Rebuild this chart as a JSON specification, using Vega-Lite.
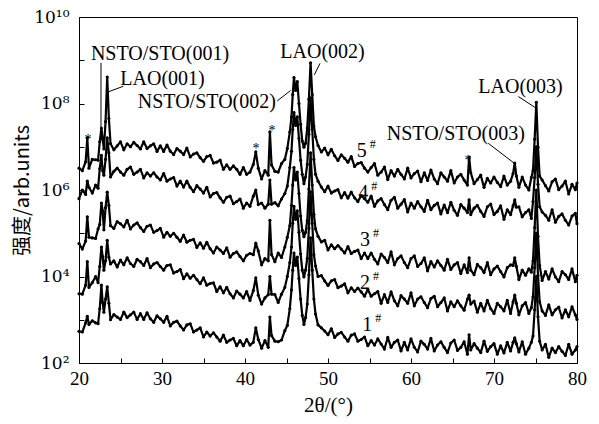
{
  "$schema": "https://vega.github.io/schema/vega-lite/v6.json",
  "width": 498,
  "height": 346,
  "autosize": {"type": "none"},
  "padding": {"left": 79, "top": 17, "right": 24, "bottom": 61},
  "background": "white",
  "config": {
    "view": {"stroke": "black", "strokeWidth": 1},
    "font": "Liberation Serif",
    "axis": {"grid": false, "domainColor": "black", "tickColor": "black", "labelColor": "black", "titleColor": "black", "labelFont": "Liberation Serif", "labelFontSize": 19, "titleFontWeight": "normal", "tickSize": -5, "labelFlush": false},
    "axisX": {"titleFontSize": 21, "titleFont": "Liberation Serif", "titleFontWeight": "normal"},
    "axisY": {"titleFontSize": 20, "titleFont": "Noto Sans CJK SC", "titleFontWeight": "normal"}
  },
  "datasets": {
    "xrd": [
      {"x":20.0,"s1":5.4e2,"s2":4.0e3,"s3":5.8e4,"s4":6.3e5,"s5":3.2e6},
      {"x":20.4,"s1":5.2e2,"s2":3.9e3,"s3":4.3e4,"s4":1.0e6,"s5":2.8e6},
      {"x":20.8,"s1":8.5e2,"s2":6.3e3,"s3":6.6e4,"s4":7.9e5,"s5":4.5e6},
      {"x":21.0,"s1":1.2e3,"s2":2.2e4,"s3":2.4e5,"s4":1.6e6,"s5":1.6e7},
      {"x":21.2,"s1":7.8e2,"s2":5.6e3,"s3":8.1e4,"s4":1.15e6,"s5":3.2e6},
      {"x":21.6,"s1":9.5e2,"s2":7.2e3,"s3":7.8e4,"s4":8.5e5,"s5":5.1e6},
      {"x":22.0,"s1":8.5e2,"s2":1.0e4,"s3":7.6e4,"s4":1.3e6,"s5":5.0e6},
      {"x":22.3,"s1":8.1e2,"s2":7.2e3,"s3":1.26e5,"s4":1.1e6,"s5":4.9e6},
      {"x":22.5,"s1":1.8e3,"s2":1.7e4,"s3":1.6e5,"s4":3.1e6,"s5":1.3e7},
      {"x":22.7,"s1":6.3e3,"s2":4.8e4,"s3":5.0e5,"s4":6.3e6,"s5":2.7e7},
      {"x":22.85,"s1":2.5e3,"s2":2.9e4,"s3":3.3e5,"s4":2.8e6,"s5":1.5e7},
      {"x":23.0,"s1":1.5e3,"s2":1.4e4,"s3":1.2e5,"s4":2.2e6,"s5":8.9e6},
      {"x":23.2,"s1":3.0e3,"s2":2.3e4,"s3":3.9e5,"s4":5.1e6,"s5":3.8e7},
      {"x":23.4,"s1":5.8e3,"s2":6.9e4,"s3":8.9e5,"s4":1.6e7,"s5":4.1e8},
      {"x":23.6,"s1":2.4e3,"s2":2.8e4,"s3":4.4e5,"s4":7.2e6,"s5":4.5e7},
      {"x":23.8,"s1":1.0e3,"s2":1.95e4,"s3":1.5e5,"s4":2.0e6,"s5":1.17e7},
      {"x":24.2,"s1":1.32e3,"s2":2.3e4,"s3":1.29e5,"s4":2.7e6,"s5":8.5e6},
      {"x":24.6,"s1":1.15e3,"s2":1.66e4,"s3":1.86e5,"s4":3.2e6,"s5":1.05e7},
      {"x":25.0,"s1":1.02e3,"s2":2.4e4,"s3":1.66e5,"s4":2.6e6,"s5":1.3e7},
      {"x":25.4,"s1":1.5e3,"s2":1.86e4,"s3":1.4e5,"s4":2.2e6,"s5":8.5e6},
      {"x":25.8,"s1":1.12e3,"s2":2.7e4,"s3":2.0e5,"s4":3.0e6,"s5":1.17e7},
      {"x":26.2,"s1":1.3e3,"s2":2.0e4,"s3":1.26e5,"s4":3.4e6,"s5":1.0e7},
      {"x":26.6,"s1":1.5e3,"s2":1.7e4,"s3":1.55e5,"s4":2.3e6,"s5":1.26e7},
      {"x":27.0,"s1":1.02e3,"s2":2.5e4,"s3":1.74e5,"s4":2.6e6,"s5":1.07e7},
      {"x":27.4,"s1":1.38e3,"s2":2.2e4,"s3":1.35e5,"s4":3.0e6,"s5":8.9e6},
      {"x":27.8,"s1":1.02e3,"s2":1.8e4,"s3":1.1e5,"s4":1.9e6,"s5":1.3e7},
      {"x":28.2,"s1":1.45e3,"s2":2.6e4,"s3":1.45e5,"s4":2.5e6,"s5":9.1e6},
      {"x":28.6,"s1":1.05e3,"s2":1.6e4,"s3":1.55e5,"s4":2.1e6,"s5":1.05e7},
      {"x":29.0,"s1":8.7e2,"s2":1.95e4,"s3":1.05e5,"s4":2.5e6,"s5":1.17e7},
      {"x":29.4,"s1":1.23e3,"s2":2.1e4,"s3":1.15e5,"s4":2.0e6,"s5":7.8e6},
      {"x":29.8,"s1":1.05e3,"s2":1.7e4,"s3":1.3e5,"s4":1.7e6,"s5":1.05e7},
      {"x":30.2,"s1":8.7e2,"s2":1.4e4,"s3":8.1e4,"s4":2.4e6,"s5":7.8e6},
      {"x":30.6,"s1":1.2e3,"s2":1.8e4,"s3":1.05e5,"s4":1.6e6,"s5":1.1e7},
      {"x":31.0,"s1":7.2e2,"s2":1.86e4,"s3":8.5e4,"s4":1.8e6,"s5":7.9e6},
      {"x":31.4,"s1":8.7e2,"s2":1.2e4,"s3":1.0e5,"s4":1.95e6,"s5":6.6e6},
      {"x":31.8,"s1":9.3e2,"s2":1.3e4,"s3":8.1e4,"s4":1.23e6,"s5":9.1e6},
      {"x":32.2,"s1":7.2e2,"s2":1.45e4,"s3":6.5e4,"s4":1.6e6,"s5":7.9e6},
      {"x":32.6,"s1":5.8e2,"s2":8.9e3,"s3":9.1e4,"s4":1.17e6,"s5":6.6e6},
      {"x":33.0,"s1":7.6e2,"s2":1.15e4,"s3":6.2e4,"s4":1.6e6,"s5":9.3e6},
      {"x":33.4,"s1":8.1e2,"s2":9.1e3,"s3":6.9e4,"s4":1.15e6,"s5":5.8e6},
      {"x":33.8,"s1":5.2e2,"s2":1.07e4,"s3":7.2e4,"s4":9.1e5,"s5":6.8e6},
      {"x":34.2,"s1":5.8e2,"s2":8.5e3,"s3":4.7e4,"s4":1.26e6,"s5":7.2e6},
      {"x":34.6,"s1":6.5e2,"s2":6.8e3,"s3":6.0e4,"s4":1.05e6,"s5":5.6e6},
      {"x":35.0,"s1":4.0e2,"s2":9.3e3,"s3":4.5e4,"s4":8.5e5,"s5":4.6e6},
      {"x":35.4,"s1":5.2e2,"s2":6.3e3,"s3":6.2e4,"s4":1.15e6,"s5":5.9e6},
      {"x":35.8,"s1":4.2e2,"s2":6.9e3,"s3":4.4e4,"s4":6.9e5,"s5":6.3e6},
      {"x":36.2,"s1":5.0e2,"s2":7.1e3,"s3":3.5e4,"s4":8.3e5,"s5":4.2e6},
      {"x":36.6,"s1":4.0e2,"s2":4.5e3,"s3":4.8e4,"s4":8.7e5,"s5":4.4e6},
      {"x":37.0,"s1":3.2e2,"s2":5.8e3,"s3":4.1e4,"s4":6.6e5,"s5":4.9e6},
      {"x":37.4,"s1":4.4e2,"s2":4.2e3,"s3":3.4e4,"s4":5.2e5,"s5":3.0e6},
      {"x":37.8,"s1":3.0e2,"s2":5.6e3,"s3":4.6e4,"s4":6.8e5,"s5":3.8e6},
      {"x":38.2,"s1":3.4e2,"s2":4.0e3,"s3":2.8e4,"s4":7.2e5,"s5":3.0e6},
      {"x":38.6,"s1":3.7e2,"s2":3.2e3,"s3":3.4e4,"s4":4.8e5,"s5":3.6e6},
      {"x":39.0,"s1":2.5e2,"s2":4.6e3,"s3":3.7e4,"s4":5.4e5,"s5":3.0e6},
      {"x":39.4,"s1":3.3e2,"s2":3.9e3,"s3":2.9e4,"s4":6.2e5,"s5":2.3e6},
      {"x":39.8,"s1":2.5e2,"s2":3.2e3,"s3":2.3e4,"s4":3.8e5,"s5":3.3e6},
      {"x":40.2,"s1":3.5e2,"s2":4.5e3,"s3":3.1e4,"s4":5.0e5,"s5":2.3e6},
      {"x":40.6,"s1":2.6e2,"s2":2.8e3,"s3":3.4e4,"s4":4.2e5,"s5":2.6e6},
      {"x":41.0,"s1":3.0e2,"s2":4.7e3,"s3":3.2e4,"s4":7.2e5,"s5":3.9e6},
      {"x":41.3,"s1":6.5e2,"s2":9.3e3,"s3":5.9e4,"s4":1.0e6,"s5":7.6e6},
      {"x":41.6,"s1":3.5e2,"s2":3.7e3,"s3":3.9e4,"s4":4.6e5,"s5":3.2e6},
      {"x":42.0,"s1":2.2e2,"s2":2.3e3,"s3":1.86e4,"s4":5.0e5,"s5":1.8e6},
      {"x":42.4,"s1":3.3e2,"s2":3.2e3,"s3":2.6e4,"s4":3.8e5,"s5":2.8e6},
      {"x":42.8,"s1":2.3e2,"s2":3.8e3,"s3":2.3e4,"s4":4.7e5,"s5":2.2e6},
      {"x":43.0,"s1":1.15e3,"s2":1.0e4,"s3":2.0e5,"s4":1.7e6,"s5":2.2e7},
      {"x":43.2,"s1":4.3e2,"s2":3.9e3,"s3":3.2e4,"s4":4.7e5,"s5":3.8e6},
      {"x":43.6,"s1":3.2e2,"s2":3.8e3,"s3":2.2e4,"s4":5.1e5,"s5":2.7e6},
      {"x":44.0,"s1":3.1e2,"s2":2.5e3,"s3":3.5e4,"s4":4.3e5,"s5":2.6e6},
      {"x":44.4,"s1":3.4e2,"s2":3.9e3,"s3":2.75e4,"s4":6.2e5,"s5":4.1e6},
      {"x":44.8,"s1":5.6e2,"s2":5.6e3,"s3":4.8e4,"s4":8.3e5,"s5":5.1e6},
      {"x":45.1,"s1":7.4e2,"s2":1.0e4,"s3":8.1e4,"s4":1.23e6,"s5":9.1e6},
      {"x":45.4,"s1":1.8e3,"s2":2.1e4,"s3":1.5e5,"s4":3.3e6,"s5":2.2e7},
      {"x":45.6,"s1":4.9e3,"s2":4.8e4,"s3":4.4e5,"s4":7.9e6,"s5":4.9e7},
      {"x":45.75,"s1":1.4e4,"s2":1.7e5,"s3":1.3e6,"s4":2.5e7,"s5":1.6e8},
      {"x":45.9,"s1":3.5e4,"s2":4.2e5,"s3":3.3e6,"s4":6.2e7,"s5":4.0e8},
      {"x":46.1,"s1":1.8e4,"s2":2.1e5,"s3":1.7e6,"s4":3.1e7,"s5":2.0e8},
      {"x":46.3,"s1":2.8e4,"s2":3.3e5,"s3":2.6e6,"s4":4.9e7,"s5":3.2e8},
      {"x":46.5,"s1":8.9e3,"s2":1.05e5,"s3":8.3e5,"s4":1.55e7,"s5":1.0e8},
      {"x":46.7,"s1":3.0e3,"s2":3.3e4,"s3":2.5e5,"s4":4.9e6,"s5":3.3e7},
      {"x":46.9,"s1":1.26e3,"s2":1.4e4,"s3":1.17e5,"s4":2.3e6,"s5":1.35e7},
      {"x":47.1,"s1":7.8e2,"s2":9.8e3,"s3":8.3e4,"s4":1.4e6,"s5":9.8e6},
      {"x":47.3,"s1":1.12e3,"s2":1.4e4,"s3":1.05e5,"s4":2.0e6,"s5":1.2e7},
      {"x":47.5,"s1":2.3e3,"s2":2.6e4,"s3":1.95e5,"s4":3.9e6,"s5":2.7e7},
      {"x":47.7,"s1":1.1e4,"s2":1.3e5,"s3":1.05e6,"s4":1.95e7,"s5":1.26e8},
      {"x":47.9,"s1":7.8e4,"s2":9.1e5,"s3":7.2e6,"s4":1.35e8,"s5":8.7e8},
      {"x":48.1,"s1":1.4e4,"s2":1.7e5,"s3":1.3e6,"s4":2.5e7,"s5":1.6e8},
      {"x":48.3,"s1":3.0e3,"s2":3.2e4,"s3":2.75e5,"s4":5.1e6,"s5":3.0e7},
      {"x":48.5,"s1":1.35e3,"s2":1.74e4,"s3":1.26e5,"s4":2.3e6,"s5":1.7e7},
      {"x":48.8,"s1":7.6e2,"s2":1.0e4,"s3":8.5e4,"s4":1.6e6,"s5":1.07e7},
      {"x":49.2,"s1":6.5e2,"s2":1.05e4,"s3":6.3e4,"s4":1.17e6,"s5":7.6e6},
      {"x":49.6,"s1":5.5e2,"s2":7.9e3,"s3":6.9e4,"s4":9.1e5,"s5":9.3e6},
      {"x":50.0,"s1":4.5e2,"s2":6.2e3,"s3":4.1e4,"s4":1.23e6,"s5":6.5e6},
      {"x":50.4,"s1":6.2e2,"s2":7.9e3,"s3":5.4e4,"s4":8.5e5,"s5":8.7e6},
      {"x":50.8,"s1":3.9e2,"s2":8.5e3,"s3":4.4e4,"s4":9.5e5,"s5":6.2e6},
      {"x":51.2,"s1":4.7e2,"s2":5.5e3,"s3":5.2e4,"s4":1.02e6,"s5":4.8e6},
      {"x":51.6,"s1":5.1e2,"s2":6.0e3,"s3":4.3e4,"s4":6.6e5,"s5":6.5e6},
      {"x":52.0,"s1":4.0e2,"s2":6.8e3,"s3":3.5e4,"s4":8.7e5,"s5":5.4e6},
      {"x":52.4,"s1":3.2e2,"s2":4.2e3,"s3":4.9e4,"s4":6.5e5,"s5":4.4e6},
      {"x":52.8,"s1":4.4e2,"s2":5.5e3,"s3":3.4e4,"s4":8.9e5,"s5":5.9e6},
      {"x":53.2,"s1":4.7e2,"s2":4.5e3,"s3":3.8e4,"s4":6.6e5,"s5":3.5e6},
      {"x":53.6,"s1":3.2e2,"s2":5.4e3,"s3":4.1e4,"s4":5.4e5,"s5":4.1e6},
      {"x":54.0,"s1":3.5e2,"s2":4.4e3,"s3":2.6e4,"s4":7.4e5,"s5":4.3e6},
      {"x":54.4,"s1":4.0e2,"s2":3.5e3,"s3":3.5e4,"s4":6.3e5,"s5":3.2e6},
      {"x":54.8,"s1":2.5e2,"s2":5.0e3,"s3":2.6e4,"s4":5.2e5,"s5":2.6e6},
      {"x":55.2,"s1":3.3e2,"s2":3.5e3,"s3":3.5e4,"s4":7.2e5,"s5":3.3e6},
      {"x":55.6,"s1":2.6e2,"s2":4.0e3,"s3":2.5e4,"s4":4.2e5,"s5":4.1e6},
      {"x":56.0,"s1":3.6e2,"s2":4.5e3,"s3":1.95e4,"s4":5.6e5,"s5":2.2e6},
      {"x":56.4,"s1":2.75e2,"s2":2.4e3,"s3":3.3e4,"s4":6.3e5,"s5":2.6e6},
      {"x":56.8,"s1":2.1e2,"s2":3.8e3,"s3":2.75e4,"s4":4.6e5,"s5":3.4e6},
      {"x":57.2,"s1":3.9e2,"s2":2.5e3,"s3":2.1e4,"s4":3.5e5,"s5":1.74e6},
      {"x":57.6,"s1":2.3e2,"s2":4.4e3,"s3":3.7e4,"s4":5.8e5,"s5":2.8e6},
      {"x":58.0,"s1":3.0e2,"s2":2.75e3,"s3":1.86e4,"s4":6.8e5,"s5":2.1e6},
      {"x":58.4,"s1":3.4e2,"s2":2.1e3,"s3":2.6e4,"s4":3.8e5,"s5":3.0e6},
      {"x":58.8,"s1":1.9e2,"s2":3.6e3,"s3":3.0e4,"s4":4.7e5,"s5":2.3e6},
      {"x":59.2,"s1":3.0e2,"s2":3.0e3,"s3":2.1e4,"s4":6.0e5,"s5":1.8e6},
      {"x":59.6,"s1":2.0e2,"s2":2.4e3,"s3":1.6e4,"s4":3.1e5,"s5":3.2e6},
      {"x":60.0,"s1":3.6e2,"s2":4.2e3,"s3":2.6e4,"s4":5.0e5,"s5":1.9e6},
      {"x":60.4,"s1":2.3e2,"s2":2.1e3,"s3":3.0e4,"s4":3.8e5,"s5":2.4e6},
      {"x":60.8,"s1":1.8e2,"s2":3.0e3,"s3":1.7e4,"s4":5.4e5,"s5":2.75e6},
      {"x":61.2,"s1":3.2e2,"s2":3.4e3,"s3":2.0e4,"s4":4.1e5,"s5":1.55e6},
      {"x":61.6,"s1":2.7e2,"s2":2.5e3,"s3":2.7e4,"s4":3.2e5,"s5":2.5e6},
      {"x":62.0,"s1":2.1e2,"s2":1.9e3,"s3":1.35e4,"s4":5.8e5,"s5":1.66e6},
      {"x":62.4,"s1":3.7e2,"s2":3.1e3,"s3":2.2e4,"s4":3.5e5,"s5":2.9e6},
      {"x":62.8,"s1":1.9e2,"s2":3.5e3,"s3":1.66e4,"s4":4.4e5,"s5":1.8e6},
      {"x":63.2,"s1":2.6e2,"s2":2.0e3,"s3":2.3e4,"s4":5.0e5,"s5":1.4e6},
      {"x":63.6,"s1":3.1e2,"s2":2.5e3,"s3":1.8e4,"s4":2.8e5,"s5":2.5e6},
      {"x":64.0,"s1":2.3e2,"s2":3.2e3,"s3":1.4e4,"s4":4.5e5,"s5":2.0e6},
      {"x":64.4,"s1":1.74e2,"s2":1.6e3,"s3":2.5e4,"s4":3.0e5,"s5":1.6e6},
      {"x":64.8,"s1":2.9e2,"s2":2.6e3,"s3":1.45e4,"s4":5.2e5,"s5":2.8e6},
      {"x":65.2,"s1":3.4e2,"s2":2.0e3,"s3":1.86e4,"s4":3.4e5,"s5":1.45e6},
      {"x":65.6,"s1":1.95e2,"s2":2.75e3,"s3":2.1e4,"s4":2.6e5,"s5":2.0e6},
      {"x":66.0,"s1":2.3e2,"s2":2.1e3,"s3":1.17e4,"s4":4.6e5,"s5":2.3e6},
      {"x":66.4,"s1":3.1e2,"s2":1.66e3,"s3":1.86e4,"s4":3.8e5,"s5":1.7e6},
      {"x":66.8,"s1":1.6e2,"s2":3.0e3,"s3":1.23e4,"s4":3.0e5,"s5":1.3e6},
      {"x":67.0,"s1":4.5e2,"s2":3.7e3,"s3":2.7e4,"s4":5.9e5,"s5":5.8e6},
      {"x":67.2,"s1":2.0e2,"s2":2.3e3,"s3":1.4e4,"s4":2.7e5,"s5":2.5e6},
      {"x":67.6,"s1":2.8e2,"s2":2.7e3,"s3":1.1e4,"s4":3.8e5,"s5":1.4e6},
      {"x":68.0,"s1":2.2e2,"s2":1.5e3,"s3":1.9e4,"s4":4.4e5,"s5":1.74e6},
      {"x":68.4,"s1":1.74e2,"s2":2.4e3,"s3":1.6e4,"s4":3.2e5,"s5":2.2e6},
      {"x":68.8,"s1":3.2e2,"s2":1.6e3,"s3":1.23e4,"s4":2.45e5,"s5":1.15e6},
      {"x":69.2,"s1":1.86e2,"s2":2.8e3,"s3":2.1e4,"s4":4.1e5,"s5":1.86e6},
      {"x":69.6,"s1":2.4e2,"s2":1.8e3,"s3":1.1e4,"s4":4.7e5,"s5":1.45e6},
      {"x":70.0,"s1":2.8e2,"s2":1.4e3,"s3":1.5e4,"s4":2.7e5,"s5":2.0e6},
      {"x":70.4,"s1":1.6e2,"s2":2.4e3,"s3":1.74e4,"s4":3.2e5,"s5":1.5e6},
      {"x":70.8,"s1":2.5e2,"s2":2.0e3,"s3":1.3e4,"s4":4.3e5,"s5":1.2e6},
      {"x":71.2,"s1":1.7e2,"s2":1.6e3,"s3":9.8e3,"s4":2.1e5,"s5":2.1e6},
      {"x":71.6,"s1":3.0e2,"s2":2.8e3,"s3":1.6e4,"s4":3.5e5,"s5":1.3e6},
      {"x":72.0,"s1":1.9e2,"s2":1.4e3,"s3":1.86e4,"s4":2.7e5,"s5":1.6e6},
      {"x":72.3,"s1":3.0e2,"s2":2.6e3,"s3":1.8e4,"s4":4.3e5,"s5":2.4e6},
      {"x":72.5,"s1":3.8e2,"s2":3.7e3,"s3":2.7e4,"s4":5.9e5,"s5":4.2e6},
      {"x":72.7,"s1":2.8e2,"s2":2.4e3,"s3":1.7e4,"s4":4.0e5,"s5":2.1e6},
      {"x":73.0,"s1":1.8e2,"s2":1.3e3,"s3":8.5e3,"s4":4.1e5,"s5":1.15e6},
      {"x":73.4,"s1":3.1e2,"s2":2.1e3,"s3":1.4e4,"s4":2.4e5,"s5":2.0e6},
      {"x":73.8,"s1":1.6e2,"s2":2.5e3,"s3":1.07e4,"s4":3.0e5,"s5":1.3e6},
      {"x":74.2,"s1":2.2e2,"s2":1.4e3,"s3":1.5e4,"s4":3.5e5,"s5":1.0e6},
      {"x":74.5,"s1":3.0e2,"s2":1.9e3,"s3":1.26e4,"s4":2.2e5,"s5":1.95e6},
      {"x":74.7,"s1":4.2e2,"s2":3.4e3,"s3":2.3e4,"s4":5.4e5,"s5":2.8e6},
      {"x":74.9,"s1":1.7e3,"s2":1.6e4,"s3":1.35e5,"s4":1.95e6,"s5":1.5e7},
      {"x":75.1,"s1":1.0e4,"s2":1.0e5,"s3":1.0e6,"s4":1.0e7,"s5":1.07e8},
      {"x":75.3,"s1":1.17e3,"s2":1.05e4,"s3":8.5e4,"s4":1.35e6,"s5":9.8e6},
      {"x":75.5,"s1":3.2e2,"s2":2.6e3,"s3":1.8e4,"s4":4.1e5,"s5":2.1e6},
      {"x":75.8,"s1":2.0e2,"s2":1.6e3,"s3":8.1e3,"s4":3.1e5,"s5":1.7e6},
      {"x":76.2,"s1":2.7e2,"s2":1.26e3,"s3":1.3e4,"s4":2.6e5,"s5":1.26e6},
      {"x":76.6,"s1":1.35e2,"s2":2.2e3,"s3":8.7e3,"s4":2.0e5,"s5":9.5e5},
      {"x":77.0,"s1":2.2e2,"s2":1.3e3,"s3":1.5e4,"s4":3.5e5,"s5":1.55e6},
      {"x":77.4,"s1":1.74e2,"s2":1.7e3,"s3":9.8e3,"s4":1.8e5,"s5":1.8e6},
      {"x":77.8,"s1":2.4e2,"s2":1.95e3,"s3":7.6e3,"s4":2.45e5,"s5":1.02e6},
      {"x":78.2,"s1":1.86e2,"s2":1.1e3,"s3":1.3e4,"s4":2.8e5,"s5":1.23e6},
      {"x":78.6,"s1":1.5e2,"s2":1.7e3,"s3":1.1e4,"s4":2.0e5,"s5":1.6e6},
      {"x":79.0,"s1":2.7e2,"s2":1.17e3,"s3":8.5e3,"s4":1.55e5,"s5":8.1e5},
      {"x":79.4,"s1":1.6e2,"s2":2.0e3,"s3":1.5e4,"s4":2.5e5,"s5":1.35e6},
      {"x":79.8,"s1":2.0e2,"s2":1.3e3,"s3":7.6e3,"s4":2.9e5,"s5":1.02e6},
      {"x":80.0,"s1":2.4e2,"s2":1.02e3,"s3":1.07e4,"s4":1.66e5,"s5":1.45e6}
    ],
    "labels": [
      {"x":29.76,"y":1.4e9,"t":"NSTO/STO(001)"},
      {"x":30.06,"y":3.7e8,"t":"LAO(001)"},
      {"x":35.4,"y":1.07e8,"t":"NSTO/STO(002)"},
      {"x":49.34,"y":1.55e9,"t":"LAO(002)"},
      {"x":73.2,"y":2.4e8,"t":"LAO(003)"},
      {"x":65.4,"y":1.95e7,"t":"NSTO/STO(003)"}
    ],
    "leaders": [
      {"x":22.65,"y":8.7e8,"x2":22.65,"y2":2.45e7},
      {"x":25.34,"y":2.5e8,"x2":23.53,"y2":1.86e8},
      {"x":43.89,"y":1.15e8,"x2":45.5,"y2":2.0e8},
      {"x":49.04,"y":8.5e8,"x2":48.35,"y2":4.6e8},
      {"x":72.93,"y":1.45e8,"x2":74.94,"y2":8.1e7},
      {"x":69.31,"y":1.2e7,"x2":72.41,"y2":4.2e6}
    ],
    "stars": [
      {"x":21.08,"y":1.7e7},
      {"x":41.33,"y":1.05e7},
      {"x":43.25,"y":2.7e7},
      {"x":66.87,"y":5.5e6}
    ],
    "samples": [
      {"x":54.06,"y":7.8e6,"n":"5"},
      {"x":54.26,"y":8.5e5,"n":"4"},
      {"x":54.46,"y":6.9e4,"n":"3"},
      {"x":54.46,"y":6.9e3,"n":"2"},
      {"x":54.74,"y":7.6e2,"n":"1"}
    ]
  },
  "layer": [
    {
      "data": {"name": "xrd"},
      "transform": [{"fold": ["s1","s2","s3","s4","s5"], "as": ["sample","I"]}],
      "mark": {"type": "line", "color": "black", "strokeWidth": 2.2, "strokeJoin": "round"},
      "encoding": {
        "x": {"field": "x", "type": "quantitative", "scale": {"domain": [20,80], "nice": false, "zero": false},
              "axis": {"values": [20,25,30,35,40,45,50,55,60,65,70,75,80], "labelExpr": "datum.value % 10 === 0 ? datum.label : ''", "labelPadding": 11, "title": "2θ/(°)", "titlePadding": 6}},
        "y": {"field": "I", "type": "quantitative", "scale": {"type": "log", "domain": [100,1e10], "nice": false},
              "axis": {"values": [1e2,1e3,1e4,1e5,1e6,1e7,1e8,1e9,1e10], "labelExpr": "datum.value == 1e10 ? '10¹⁰' : datum.value == 1e8 ? '10⁸' : datum.value == 1e6 ? '10⁶' : datum.value == 1e4 ? '10⁴' : datum.value == 1e2 ? '10²' : ''", "labelFont": "DejaVu Serif", "labelFontSize": 17, "labelPadding": 15, "title": "强度/arb.units", "titlePadding": 1}},
        "detail": {"field": "sample"}
      }
    },
    {
      "data": {"name": "xrd"},
      "transform": [{"fold": ["s1","s2","s3","s4","s5"], "as": ["sample","I"]}],
      "mark": {"type": "point", "filled": true, "size": 10, "color": "black", "opacity": 1},
      "encoding": {
        "x": {"field": "x", "type": "quantitative", "scale": {"domain": [20,80], "nice": false, "zero": false}},
        "y": {"field": "I", "type": "quantitative", "scale": {"type": "log", "domain": [100,1e10], "nice": false}}
      }
    },
    {
      "data": {"name": "leaders"},
      "mark": {"type": "rule", "color": "black", "strokeWidth": 1},
      "encoding": {
        "x": {"field": "x", "type": "quantitative", "scale": {"domain": [20,80], "nice": false, "zero": false}},
        "y": {"field": "y", "type": "quantitative", "scale": {"type": "log", "domain": [100,1e10], "nice": false}},
        "x2": {"field": "x2"},
        "y2": {"field": "y2"}
      }
    },
    {
      "data": {"name": "labels"},
      "mark": {"type": "text", "font": "Liberation Serif", "fontSize": 20, "fill": "black", "align": "center", "baseline": "middle"},
      "encoding": {
        "x": {"field": "x", "type": "quantitative", "scale": {"domain": [20,80], "nice": false, "zero": false}},
        "y": {"field": "y", "type": "quantitative", "scale": {"type": "log", "domain": [100,1e10], "nice": false}},
        "text": {"field": "t"}
      }
    },
    {
      "data": {"name": "stars"},
      "mark": {"type": "text", "font": "Liberation Serif", "fontSize": 14, "fill": "black", "align": "center", "baseline": "middle", "dy": 3, "text": "*"},
      "encoding": {
        "x": {"field": "x", "type": "quantitative", "scale": {"domain": [20,80], "nice": false, "zero": false}},
        "y": {"field": "y", "type": "quantitative", "scale": {"type": "log", "domain": [100,1e10], "nice": false}}
      }
    },
    {
      "data": {"name": "samples"},
      "mark": {"type": "text", "font": "Liberation Serif", "fontSize": 20, "fill": "black", "align": "center", "baseline": "middle"},
      "encoding": {
        "x": {"field": "x", "type": "quantitative", "scale": {"domain": [20,80], "nice": false, "zero": false}},
        "y": {"field": "y", "type": "quantitative", "scale": {"type": "log", "domain": [100,1e10], "nice": false}},
        "text": {"field": "n"}
      }
    },
    {
      "data": {"name": "samples"},
      "mark": {"type": "text", "font": "Liberation Serif", "fontSize": 12, "fill": "black", "align": "center", "baseline": "middle", "dx": 11, "dy": -7, "text": "#"},
      "encoding": {
        "x": {"field": "x", "type": "quantitative", "scale": {"domain": [20,80], "nice": false, "zero": false}},
        "y": {"field": "y", "type": "quantitative", "scale": {"type": "log", "domain": [100,1e10], "nice": false}}
      }
    }
  ]
}
